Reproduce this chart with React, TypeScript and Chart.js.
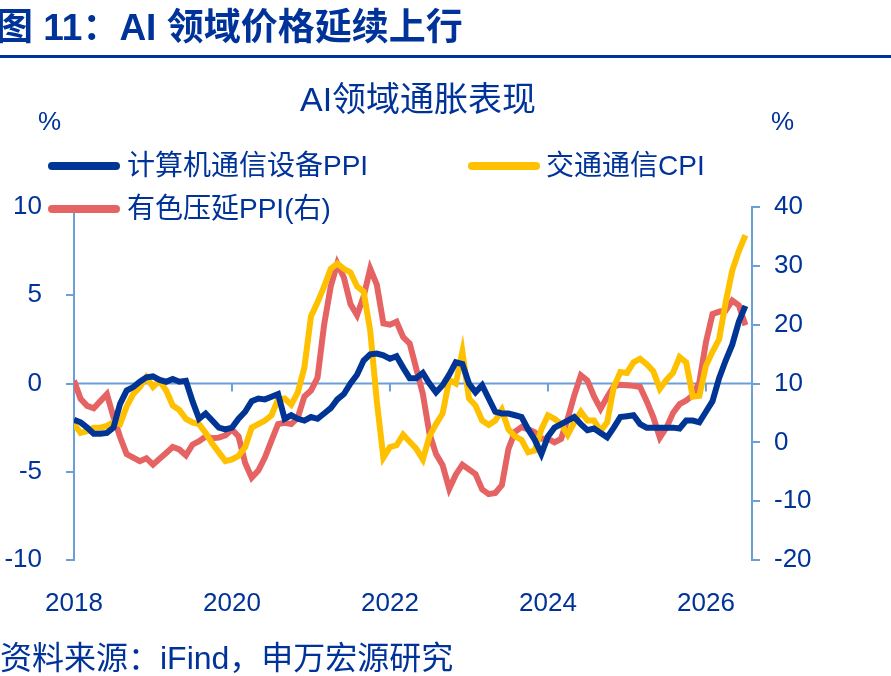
import React, { useEffect, useRef } from "react";
import { Chart, registerables } from "chart.js";
Chart.register(...registerables);

const startYear = 2018;
const xTickYears = [2018, 2020, 2022, 2024, 2026];
const leftTicks = [-10, -5, 0, 5, 10];
const rightTicks = [-20, -10, 0, 10, 20, 30, 40];
const computerPPI = [-2.05,-2.2,-2.5,-2.85,-2.85,-2.8,-2.5,-1.15,-0.4,-0.2,0.1,0.35,0.4,0.2,0.1,0.25,0.1,0.15,-1.0,-2.0,-1.7,-2.1,-2.5,-2.6,-2.5,-2.0,-1.6,-1.0,-0.85,-0.9,-0.75,-0.6,-2.0,-1.8,-2.0,-2.1,-1.9,-2.0,-1.7,-1.4,-0.9,-0.6,0.0,0.5,1.3,1.65,1.7,1.6,1.4,1.55,0.9,0.3,0.3,0.6,0.0,-0.5,-0.1,0.5,1.2,1.1,0.0,-0.5,-0.1,-0.85,-1.6,-1.7,-1.7,-1.8,-1.9,-2.6,-3.2,-4.0,-3.0,-2.5,-2.3,-2.1,-1.9,-2.3,-2.65,-2.55,-2.8,-3.05,-2.5,-1.9,-1.85,-1.8,-2.3,-2.5,-2.5,-2.5,-2.5,-2.5,-2.55,-2.1,-2.1,-2.2,-1.6,-1.0,0.3,1.3,2.2,3.5,4.4];
const transportCPI = [-2.3,-2.8,-2.7,-2.5,-2.5,-2.4,-2.2,-2.3,-1.3,-0.6,-0.2,0.35,-0.2,0.15,-0.4,-1.25,-1.5,-2.0,-2.2,-2.3,-2.8,-3.4,-3.9,-4.4,-4.3,-4.1,-3.6,-2.5,-2.3,-2.1,-1.8,-0.9,-0.85,-1.2,-0.5,0.9,3.8,4.6,5.5,6.5,6.8,6.5,6.3,5.5,5.2,3.0,-1.0,-4.2,-3.6,-3.5,-2.9,-3.3,-3.7,-4.3,-3.0,-2.3,-1.7,0.2,0.0,1.8,-0.85,-1.25,-2.1,-2.35,-2.1,-1.5,-2.6,-3.0,-3.2,-3.9,-3.8,-2.6,-1.8,-2.0,-2.3,-2.9,-2.2,-1.6,-2.1,-2.1,-2.7,-2.2,-0.2,0.65,0.6,1.2,1.4,1.1,0.7,-0.3,0.2,0.6,1.5,1.2,-0.75,-0.7,1.0,1.8,2.5,4.6,6.4,7.5,8.4];
const metalPPI = [10.5,7.4,6.2,5.8,7.0,8.2,4.3,0.9,-2.0,-2.6,-3.2,-2.7,-3.8,-2.8,-1.8,-0.8,-1.2,-2.2,-0.4,0.2,1.0,0.7,0.8,1.2,2.2,1.0,-3.5,-6.0,-4.8,-2.6,0.3,3.1,3.3,3.1,4.2,7.8,8.8,11.0,20.0,26.5,30.4,28.0,23.5,21.6,24.8,29.5,26.8,20.2,20.0,20.5,17.9,16.8,12.5,8.2,1.5,-2.0,-3.9,-7.9,-5.5,-3.8,-4.6,-5.4,-8.0,-8.8,-8.6,-7.3,-1.1,1.8,2.6,2.2,1.7,0.6,0.6,0.0,0.6,4.0,8.0,11.4,10.5,7.8,5.7,7.7,9.5,9.8,9.7,9.6,9.4,7.0,4.3,0.8,2.5,5.0,6.5,7.1,8.0,10.2,17.0,21.8,22.2,22.4,24.1,23.3,19.9];

const NAVY = "#003399";
const AXIS = "#6a9fd8";
const FONT = '"Liberation Sans", "Noto Sans CJK SC", Arial, sans-serif';

const pts = (arr: number[]) => arr.map((y, i) => ({ x: i, y }));

export default function App() {
  const ref = useRef<HTMLCanvasElement>(null);
  useEffect(() => {
    const zeroLine = {
      id: "zeroLine",
      beforeDatasetsDraw(c: any) {
        const ctx = c.ctx;
        const y = c.scales.y.getPixelForValue(0);
        const xs = c.scales.x;
        ctx.save();
        ctx.strokeStyle = AXIS;
        ctx.lineWidth = 2;
        ctx.beginPath();
        ctx.moveTo(c.chartArea.left, y);
        ctx.lineTo(c.chartArea.right, y);
        for (let m = 24; m < 103; m += 24) {
          const px = xs.getPixelForValue(m);
          ctx.moveTo(px, y);
          ctx.lineTo(px, y + 8);
        }
        ctx.stroke();
        ctx.restore();
      },
    };
    const ch = new Chart(ref.current!, {
      type: "line",
      data: {
        datasets: [
          { label: "有色压延PPI(右)", data: pts(metalPPI), yAxisID: "y2", borderColor: "#e66363", borderWidth: 6, pointRadius: 0, tension: 0, order: 3 },
          { label: "交通通信CPI", data: pts(transportCPI), yAxisID: "y", borderColor: "#ffc000", borderWidth: 6, pointRadius: 0, tension: 0, order: 2 },
          { label: "计算机通信设备PPI", data: pts(computerPPI), yAxisID: "y", borderColor: "#003595", borderWidth: 6, pointRadius: 0, tension: 0, order: 1 },
        ],
      },
      options: {
        animation: false,
        responsive: false,
        layout: { padding: { top: 207, left: 0, right: 0, bottom: 0 } },
        plugins: { legend: { display: false }, tooltip: { enabled: false } },
        scales: {
          x: {
            type: "linear", min: 0, max: 103,
            border: { display: false },
            grid: { display: false },
            afterFit: (s: any) => { s.height = 116; },
            ticks: {
              autoSkip: false, maxRotation: 0, padding: 20,
              color: NAVY, font: { family: FONT, size: 26 },
              callback: (v: any) => (v % 24 === 0 ? String(startYear + v / 12) : ""),
            },
            afterBuildTicks: (s: any) => { s.ticks = xTickYears.map((yr) => ({ value: (yr - startYear) * 12 })); },
          },
          y: {
            position: "left", min: -10, max: 10,
            border: { color: AXIS, width: 2 },
            grid: { drawOnChartArea: false, color: AXIS, tickLength: 8, lineWidth: 2 },
            afterFit: (s: any) => { s.width = 74; },
            afterBuildTicks: (s: any) => { s.ticks = leftTicks.map((v) => ({ value: v })); },
            ticks: { color: NAVY, padding: 24, font: { family: FONT, size: 26 } },
          },
          y2: {
            position: "right", min: -20, max: 40,
            border: { color: AXIS, width: 2 },
            grid: { drawOnChartArea: false, color: AXIS, tickLength: 8, lineWidth: 2 },
            afterFit: (s: any) => { s.width = 139; },
            afterBuildTicks: (s: any) => { s.ticks = rightTicks.map((v) => ({ value: v })); },
            ticks: { color: NAVY, padding: 14, font: { family: FONT, size: 26 } },
          },
        },
      } as any,
      plugins: [zeroLine],
    });
    return () => ch.destroy();
  }, []);

  const txt: React.CSSProperties = { position: "absolute", color: NAVY, fontFamily: FONT, whiteSpace: "nowrap", lineHeight: 1 };
  const legendLine = (left: number, top: number, color: string) => (
    <div style={{ position: "absolute", left, top, width: 72, height: 8, borderRadius: 4, background: color }} />
  );
  return (
    <div style={{ position: "absolute", left: 0, top: 0, width: 891, height: 676, background: "#fff", overflow: "hidden" }}>
      <canvas ref={ref} width={891} height={676} style={{ position: "absolute", left: 0, top: 0 }} />
      <div style={{ ...txt, left: -4, top: 9, fontSize: 37, fontWeight: "bold" }}>图 11：AI 领域价格延续上行</div>
      <div style={{ position: "absolute", left: 0, top: 55, width: 891, height: 3, background: NAVY }} />
      <div style={{ ...txt, left: 300, top: 82, fontSize: 34 }}>AI领域通胀表现</div>
      <div style={{ ...txt, left: 38, top: 108, fontSize: 26 }}>%</div>
      <div style={{ ...txt, left: 771, top: 108, fontSize: 26 }}>%</div>
      {legendLine(48, 162, "#003595")}
      <div style={{ ...txt, left: 127, top: 152, fontSize: 28 }}>计算机通信设备PPI</div>
      {legendLine(468, 162, "#ffc000")}
      <div style={{ ...txt, left: 546, top: 152, fontSize: 28 }}>交通通信CPI</div>
      {legendLine(48, 205, "#e66363")}
      <div style={{ ...txt, left: 127, top: 195, fontSize: 28 }}>有色压延PPI(右)</div>
      <div style={{ ...txt, left: 0, top: 642, fontSize: 32 }}>资料来源：iFind，申万宏源研究</div>
    </div>
  );
}
